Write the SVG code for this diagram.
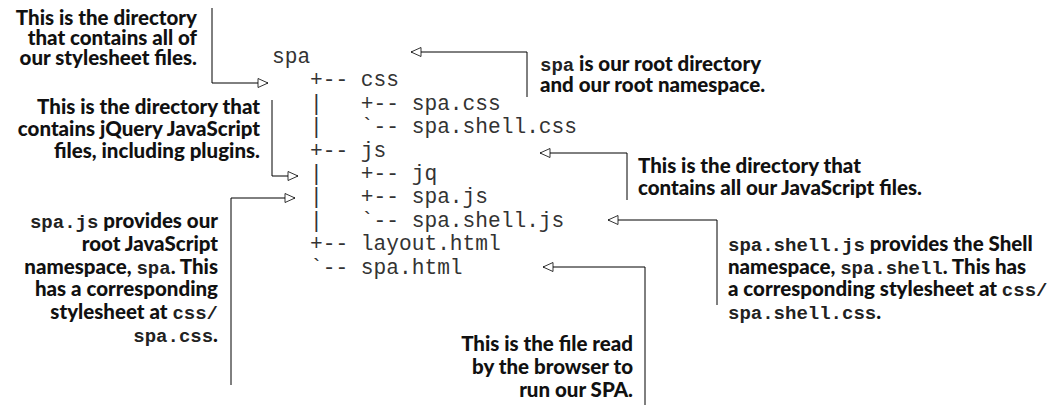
<svg xmlns="http://www.w3.org/2000/svg" width="1054" height="412" viewBox="0 0 1054 412">
<style>
.t{font-family:"Liberation Mono","Courier New",monospace;font-size:21.2px;fill:#333;white-space:pre}
.a{font-family:Lato,"Liberation Sans",Arial,sans-serif;font-size:20.5px;font-weight:900;fill:#111}
.m{font-family:"Liberation Mono","Courier New",monospace;font-size:19px;font-weight:bold;fill:#222}
.c{fill:none;stroke:#000;stroke-width:1}
.e{text-anchor:end}
</style>
<defs>
<marker id="ah" markerUnits="userSpaceOnUse" markerWidth="12" markerHeight="12" refX="10.5" refY="5" orient="auto" overflow="visible">
<path d="M0.5,0.5 L10.5,5 L0.5,9.5 Z" fill="#fff" stroke="#000" stroke-width="0.8"/>
</marker>
</defs>
<rect width="1054" height="412" fill="#fff"/>
<g id="tree">
<text class="t" x="272" y="63">spa</text>
<text class="t" x="310" y="86.4">+-- css</text>
<text class="t" x="310" y="109.8">|   +-- spa.css</text>
<text class="t" x="310" y="133.2">|   `-- spa.shell.css</text>
<text class="t" x="310" y="156.6">+-- js</text>
<text class="t" x="310" y="180">|   +-- jq</text>
<text class="t" x="310" y="203.4">|   +-- spa.js</text>
<text class="t" x="310" y="226.8">|   `-- spa.shell.js</text>
<text class="t" x="310" y="250.2">+-- layout.html</text>
<text class="t" x="310" y="273.6">`-- spa.html</text>
</g>
<g id="note-css">
<text class="a e" x="197" y="25">This is the directory</text>
<text class="a e" x="197" y="45">that contains all of</text>
<text class="a e" x="197" y="65">our stylesheet files.</text>
</g>
<g id="note-root">
<text class="a" x="540" y="71"><tspan class="m">spa</tspan> is our root directory</text>
<text class="a" x="540" y="92">and our root namespace.</text>
</g>
<g id="note-jq">
<text class="a e" x="260" y="114">This is the directory that</text>
<text class="a e" x="260" y="136">contains jQuery JavaScript</text>
<text class="a e" x="260" y="158">files, including plugins.</text>
</g>
<g id="note-js">
<text class="a" x="638" y="173">This is the directory that</text>
<text class="a" x="638" y="195">contains all our JavaScript files.</text>
</g>
<g id="note-spajs">
<text class="a e" x="218" y="228"><tspan class="m">spa.js</tspan> provides our</text>
<text class="a e" x="218" y="251">root JavaScript</text>
<text class="a e" x="218" y="274">namespace, <tspan class="m">spa</tspan>. This</text>
<text class="a e" x="218" y="296">has a corresponding</text>
<text class="a e" x="218" y="319">stylesheet at <tspan class="m">css/</tspan></text>
<text class="a e" x="218" y="342"><tspan class="m">spa.css</tspan>.</text>
</g>
<g id="note-shell">
<text class="a" x="728" y="251"><tspan class="m">spa.shell.js</tspan> provides the Shell</text>
<text class="a" x="728" y="274">namespace, <tspan class="m">spa.shell</tspan>. This has</text>
<text class="a" x="728" y="296">a corresponding stylesheet at <tspan class="m">css/</tspan></text>
<text class="a" x="728" y="319"><tspan class="m">spa.shell.css</tspan>.</text>
</g>
<g id="note-html">
<text class="a e" x="633" y="351">This is the file read</text>
<text class="a e" x="633" y="374">by the browser to</text>
<text class="a e" x="633" y="397">run our SPA.</text>
</g>
<g id="connectors">
<path class="c" d="M212,8 V83 H268" marker-end="url(#ah)"/>
<path class="c" d="M527,97 V52 H411" marker-end="url(#ah)"/>
<path class="c" d="M272,100 V176 H298" marker-end="url(#ah)"/>
<path class="c" d="M627,200 V153 H540" marker-end="url(#ah)"/>
<path class="c" d="M231,385 V198 H295" marker-end="url(#ah)"/>
<path class="c" d="M717,305 V220 H608" marker-end="url(#ah)"/>
<path class="c" d="M645,405 V267 H543" marker-end="url(#ah)"/>
</g>
</svg>
